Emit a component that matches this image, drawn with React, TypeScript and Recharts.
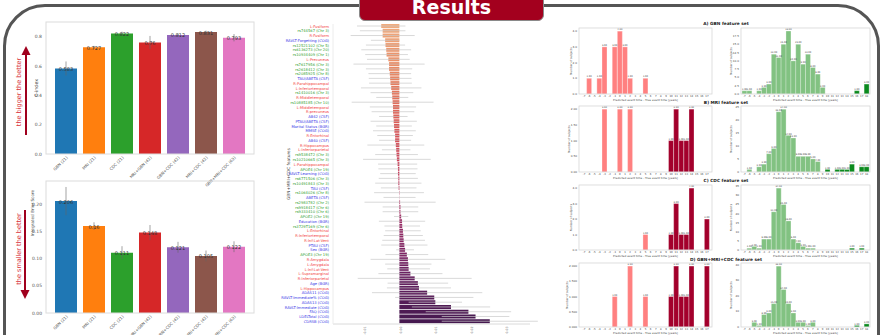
import React from "react";
import { BarChart, Bar, XAxis, YAxis, ErrorBar, LabelList, Cell } from "recharts";

const FONT = "'DejaVu Sans', Verdana, sans-serif";

// ---- overall performance (left) ----
const setNames = ["GBN (21)", "MRI (21)", "CDC (21)", "MRI+GBN (42)", "GBN+CDC (42)", "MRI+CDC (42)", "GBN+MRI+CDC (63)"];
const setColors = ["#1f77b4", "#ff7f0e", "#2ca02c", "#d62728", "#9467bd", "#8c564b", "#e377c2"];
const cIndex = [0.583, 0.727, 0.822, 0.76, 0.812, 0.831, 0.793];
const cIndexErr = [0.048, 0.01, 0.012, 0.045, 0.01, 0.01, 0.025];
const cIndexTicks = [0, 0.2, 0.4, 0.6, 0.8];
const ibs = [0.206, 0.16, 0.111, 0.148, 0.121, 0.105, 0.122];
const ibsErr = [0.026, 0.007, 0.012, 0.014, 0.01, 0.01, 0.01];
const ibsTicks = [0, 0.05, 0.1, 0.15, 0.2];

// ---- feature importance (middle) ----
const featureNames = [
  "L-Fusiform", "rs744567 (Chr 3)", "R-Fusiform", "RAVLT-Forgetting (COG)", "rs12521102 (Chr 5)",
  "rs6136273 (Chr 20)", "rs10934409 (Chr 1)", "L-Precuneus", "rs7617956 (Chr 3)", "rs2618412 (Chr 3)",
  "rs2085925 (Chr 8)", "TAU/ABETA (CSF)", "R-Parahippocampal", "L-Inferiortemporal", "rs1410016 (Chr 3)",
  "R-Middletemporal", "rs10885185 (Chr 10)", "L-Middletemporal", "R-precuneus", "AB42 (CSF)",
  "PTAU/ABETA (CSF)", "Marital Status (BGR)", "MMSE (COG)", "R-Entorhinal", "AB40 (CSF)",
  "R-Hippocampus", "L-Inferiorparietal", "rs9538472 (Chr 3)", "rs10210665 (Chr 3)", "L-Parahippocampal",
  "APOE4 (Chr 19)", "RAVLT-Learning (COG)", "rs6771506 (Chr 3)", "rs10491843 (Chr 3)", "TAU (CSF)",
  "rs1064026 (Chr 8)", "ABETA (CSF)", "rs2983782 (Chr 2)", "rs9918417 (Chr 6)", "rs9333410 (Chr 6)",
  "APOE2 (Chr 19)", "Education (BGR)", "rs3729T169 (Chr 6)", "L-Entorhinal", "R-Inferiortemporal",
  "R-Inf-Lat-Vent", "PTAU (CSF)", "Sex (BGR)", "APOE3 (Chr 19)", "R-Amygdala",
  "L-Amygdala", "L-Inf-Lat-Vent", "L-Supramarginal", "R-Inferiorparietal", "Age (BGR)",
  "L-Hippocampus", "ADAS11 (COG)", "RAVLT-Immediate% (COG)", "ADAS13 (COG)", "RAVLT-Immediate (COG)",
  "FAQ (COG)", "LDELTotal (COG)", "CDRSB (COG)",
];
const featureGroup = [
  "M", "G", "M", "C", "G", "G", "G", "M", "G", "G",
  "G", "C", "M", "M", "G", "M", "G", "M", "M", "C",
  "C", "C", "C", "M", "C", "M", "M", "G", "G", "M",
  "G", "C", "G", "G", "C", "G", "C", "G", "G", "G",
  "G", "C", "G", "M", "M", "M", "C", "C", "G", "M",
  "M", "M", "M", "M", "C", "M", "C", "C", "C", "C",
  "C", "C", "C",
];
const featureImpact = [
  -0.0051, -0.0047, -0.0047, -0.004, -0.0039, -0.0037, -0.0036, -0.0031, -0.0029, -0.0029,
  -0.0027, -0.0026, -0.0025, -0.0023, -0.0021, -0.002, -0.0019, -0.0018, -0.0018, -0.0017,
  -0.0016, -0.0015, -0.0014, -0.0012, -0.0012, -0.001, -0.0009, -0.0008, -0.0007, -0.0005,
  -0.0004, -0.0004, -0.0003, -0.0003, -0.0002, -0.0001, 0.00005, 0.0002, 0.0003, 0.0003,
  0.0005, 0.00075, 0.0008, 0.001, 0.0011, 0.0012, 0.0014, 0.0016, 0.0021, 0.0024,
  0.0025, 0.0026, 0.0031, 0.0043, 0.0052, 0.0055, 0.0078, 0.0098, 0.0101, 0.0145,
  0.0194, 0.0214, 0.0254,
];
const featureErr = [
  0.0068, 0.0064, 0.009, 0.004, 0.0055, 0.007, 0.006, 0.006, 0.01, 0.0065,
  0.006, 0.006, 0.006, 0.0085, 0.006, 0.0045, 0.0115, 0.0065, 0.006, 0.004,
  0.0065, 0.005, 0.006, 0.005, 0.0045, 0.008, 0.004, 0.006, 0.0095, 0.0055,
  0.0055, 0.005, 0.0055, 0.0065, 0.005, 0.007, 0.0045, 0.01, 0.005, 0.005,
  0.002, 0.0065, 0.005, 0.005, 0.0055, 0.006, 0.0065, 0.0025, 0.006, 0.0105,
  0.0065, 0.006, 0.009, 0.016, 0.0085, 0.009, 0.0155, 0.011, 0.0075, 0.011,
  0.012, 0.0095, 0.0135,
];
const impactTicks = [-0.01, 0, 0.01, 0.02, 0.03];

// ---- error histograms (right) ----
const leftBins = [-7, -6, -5, -4, -3, -2, -1, 0, 1, 2, 3, 4, 5, 6, 7, 8, 9, 10, 11, 12, 13, 14, 15, 16, 17];
const rightBins = [-7, -6, -5, -4, -3, -2, -1, 0, 1, 2, 3, 4, 5, 6, 7, 8, 9, 10, 11, 12, 13, 14, 15, 16, 17, 18];

const gbnLeft = [0, 1, 0, 1, 3, 0, 3, 4, 3, 1, 0, 0, 1, 0, 0, 0, 0, 0, 0, 0, 0, 0, 0, 0, 0];
const gbnRight = [1, 1, 0, 1, 2, 3, 12, 11, 15, 19, 10, 15, 9, 12, 8, 6, 2, 0, 0, 0, 0, 0, 0, 1, 0, 3];
const mriLeft = [0, 0, 0, 0, 2, 0, 0, 2, 0, 2, 0, 0, 0, 0, 0, 0, 0, 1, 2, 1, 1, 2, 0, 0, 0];
const mriRight = [0, 1, 0, 2, 3, 7, 9, 23, 24, 14, 13, 6, 6, 6, 5, 4, 0, 1, 0, 1, 1, 1, 3, 0, 2, 2];
const cdcLeft = [0, 0, 0, 0, 0, 0, 0, 0, 0, 0, 0, 0, 1, 0, 0, 0, 0, 1, 3, 1, 1, 4, 0, 0, 2];
const cdcRight = [0, 1, 2, 1, 6, 6, 21, 34, 25, 16, 6, 4, 2, 1, 1, 0, 0, 0, 0, 0, 0, 0, 1, 0, 1, 0];
const allLeft = [0, 0, 0, 0, 0, 0, 1, 0, 0, 2, 0, 0, 1, 0, 0, 0, 0, 1, 2, 1, 1, 2, 0, 0, 2];
const allRight = [0, 0, 3, 1, 8, 9, 15, 39, 24, 15, 9, 3, 3, 1, 3, 0, 0, 0, 0, 0, 0, 0, 0, 1, 0, 2];

const ticksHalf4 = [0, 0.5, 1, 1.5, 2, 2.5, 3, 3.5, 4];
const ticksQuarter2 = [0, 0.25, 0.5, 0.75, 1, 1.25, 1.5, 1.75, 2];
const gbnRightTicks = [0, 2.5, 5, 7.5, 10, 12.5, 15, 17.5];
const mriRightTicks = [0, 5, 10, 15, 20, 25];
const cdcRightTicks = [0, 5, 10, 15, 20, 25, 30, 35];
const allRightTicks = [0, 5, 10, 15, 20, 25, 30, 35, 40];

const histTitles = ["A) GBN feature set", "B) MRI feature set", "C) CDC feature set", "D) GBN+MRI+CDC feature set"];

const groupColor: Record<string, string> = { M: "#f23a3a", G: "#2f9e2f", C: "#3535e6" };

const flare = ["#f0ab7e", "#e8845f", "#dc5a57", "#c63d5c", "#9b2b66", "#6c2263", "#45184f"];
function mix(a: string, b: string, t: number) {
  const pa = [1, 3, 5].map((k) => parseInt(a.slice(k, k + 2), 16));
  const pb = [1, 3, 5].map((k) => parseInt(b.slice(k, k + 2), 16));
  return "rgb(" + pa.map((v, i) => Math.round(v + (pb[i] - v) * t)).join(",") + ")";
}
function flareColor(i: number, n: number) {
  const t = (i / (n - 1)) * (flare.length - 1);
  const k = Math.min(Math.floor(t), flare.length - 2);
  return mix(flare[k], flare[k + 1], t - k);
}

function ScoreChart({ top, height, mTop, xH, values, errors, ticks, yMax }: any) {
  const data = setNames.map((name, i) => ({ name, v: values[i], err: errors[i] }));
  return (
    <div style={{ position: "absolute", left: 0, top }}>
      <BarChart width={270} height={height} data={data} margin={{ top: mTop, right: 16, left: 0, bottom: 0 }}>
        <XAxis
          dataKey="name"
          interval={0}
          height={xH}
          angle={-45}
          textAnchor="end"
          padding={{ left: 6, right: 6 }}
          tick={{ fontSize: 4, fill: "#555", fontFamily: FONT }}
          tickLine={false}
          axisLine={false}
          tickSize={1}
          tickMargin={1}
        />
        <YAxis
          width={46}
          domain={[0, yMax]}
          ticks={ticks}
          allowDataOverflow
          tickFormatter={(v: number) => (ticks[1] < 0.1 ? v.toFixed(2) : v.toFixed(1))}
          tick={{ fontSize: 4.5, fill: "#555", fontFamily: FONT }}
          tickLine={false}
          axisLine={false}
          tickSize={1}
          tickMargin={3}
        />
        <Bar dataKey="v" barSize={22} isAnimationActive={false}>
          {data.map((d, i) => (
            <Cell key={i} fill={setColors[i]} />
          ))}
          <ErrorBar dataKey="err" direction="y" width={0} stroke="#666" strokeWidth={0.6} />
          <LabelList dataKey="v" position="top" offset={-2.5} fontSize={5} fill="#333" fontFamily={FONT} />
        </Bar>
      </BarChart>
    </div>
  );
}

function FeatureTick(props: any) {
  const { x, y, payload } = props;
  const idx = featureNames.indexOf(payload.value);
  return (
    <text x={x - 1} y={y} dy={1.3} textAnchor="end" fontSize={3.7} fontFamily={FONT} fill={groupColor[featureGroup[idx]]}>
      {payload.value}
    </text>
  );
}

function FeatureChart() {
  const data = featureNames.map((name, i) => ({ name, v: featureImpact[i], err: featureErr[i] }));
  return (
    <div style={{ position: "absolute", left: 270, top: 0 }}>
      <BarChart width={270} height={335} data={data} layout="vertical" margin={{ top: 24, right: 10, left: 0, bottom: 0 }}>
        <XAxis
          type="number"
          domain={[-0.01865, 0.0367]}
          allowDataOverflow
          ticks={impactTicks}
          height={11}
          angle={-90}
          textAnchor="end"
          tickFormatter={(v: number) => v.toFixed(2)}
          tick={{ fontSize: 3.2, fill: "#777", fontFamily: FONT }}
          tickLine={false}
          axisLine={{ stroke: "#dadada" }}
          tickSize={1}
          tickMargin={1.5}
        />
        <YAxis
          type="category"
          dataKey="name"
          width={63}
          interval={0}
          tick={<FeatureTick />}
          tickLine={false}
          axisLine={{ stroke: "#ececec" }}
          tickSize={1}
        />
        <Bar dataKey="v" barSize={4} isAnimationActive={false}>
          {data.map((d, i) => (
            <Cell key={i} fill={flareColor(i, data.length)} />
          ))}
          <ErrorBar dataKey="err" direction="x" width={0} stroke="#c9c9c9" strokeWidth={0.7} />
        </Bar>
      </BarChart>
    </div>
  );
}

function Hist({ left, top, w, h, bins, counts, yMax, ticks, digits, light, dark, pad }: any) {
  const data = bins.map((b: number, i: number) => ({ bin: String(b), n: counts[i] }));
  const axisW = 20;
  return (
    <div style={{ position: "absolute", left: left - axisW, top: top - 4 }}>
      <BarChart width={axisW + w} height={4 + h + 8} data={data} margin={{ top: 4, right: 0, left: 0, bottom: 0 }} barCategoryGap={0}>
        <XAxis
          dataKey="bin"
          interval={0}
          height={8}
          padding={{ left: pad, right: pad }}
          tick={{ fontSize: 2.6, fill: "#444", fontFamily: FONT }}
          tickLine={false}
          axisLine={false}
          tickSize={1}
          tickMargin={0}
        />
        <YAxis
          width={axisW}
          domain={[0, yMax]}
          ticks={ticks}
          allowDataOverflow
          tickFormatter={(v: number) => v.toFixed(digits)}
          tick={{ fontSize: 2.8, fill: "#444", fontFamily: FONT }}
          tickLine={false}
          axisLine={false}
          tickSize={1}
          tickMargin={1}
        />
        <Bar dataKey="n" isAnimationActive={false} stroke="#ffffff" strokeWidth={0.3}>
          {data.map((d: any, i: number) => (
            <Cell key={i} fill={bins[i] >= 10 ? dark : light} />
          ))}
          <LabelList dataKey="n" position="top" offset={0.8} fontSize={2.3} fill="#333" fontFamily={FONT} formatter={(v: any) => Number(v).toFixed(2)} />
        </Bar>
      </BarChart>
    </div>
  );
}

const rows = [
  { top: 28, h: 66, l: gbnLeft, lMax: 4.2, lTicks: ticksHalf4, lDig: 1, r: gbnRight, rMax: 19.9, rTicks: gbnRightTicks, rDig: 1 },
  { top: 106, h: 66, l: mriLeft, lMax: 2.1, lTicks: ticksQuarter2, lDig: 2, r: mriRight, rMax: 25.2, rTicks: mriRightTicks, rDig: 0 },
  { top: 185, h: 65, l: cdcLeft, lMax: 4.2, lTicks: ticksHalf4, lDig: 1, r: cdcRight, rMax: 35.7, rTicks: cdcRightTicks, rDig: 0 },
  { top: 263, h: 64, l: allLeft, lMax: 2.1, lTicks: ticksQuarter2, lDig: 3, r: allRight, rMax: 41, rTicks: allRightTicks, rDig: 0 },
];
const histTitleY = [23, 102, 180, 259];

export default function App() {
  const LX = 579, LW = 133, RX = 741, RW = 129;
  return (
    <div style={{ position: "fixed", left: 0, top: 0, width: 881, height: 335, overflow: "hidden", background: "#fff", fontFamily: FONT }}>
      <div style={{ position: "absolute", left: 3, top: 4, width: 871, height: 420, border: "3px solid #555", borderRadius: 42 }} />

      <ScoreChart top={0} height={195} mTop={22} xH={41} values={cIndex} errors={cIndexErr} ticks={cIndexTicks} yMax={0.9} />
      <ScoreChart top={160} height={175} mTop={21} xH={22} values={ibs} errors={ibsErr} ticks={ibsTicks} yMax={0.243} />

      <FeatureChart />

      {rows.map((r, i) => (
        <React.Fragment key={i}>
          <Hist left={LX} top={r.top} w={LW} h={r.h} bins={leftBins} counts={r.l} yMax={r.lMax} ticks={r.lTicks} digits={r.lDig} light="#ff8080" dark="#a3002c" pad={2.5} />
          <Hist left={RX} top={r.top} w={RW} h={r.h} bins={rightBins} counts={r.r} yMax={r.rMax} ticks={r.rTicks} digits={r.rDig} light="#82c282" dark="#0b8a1e" pad={1} />
        </React.Fragment>
      ))}

      <svg width={881} height={335} style={{ position: "absolute", left: 0, top: 0, pointerEvents: "none" }} fontFamily={FONT}>
        {/* axes frames */}
        <rect x={46} y={22} width={208} height={132} fill="none" stroke="#dcdcdc" strokeWidth={1} />
        <rect x={46} y={181} width={208} height={132} fill="none" stroke="#dcdcdc" strokeWidth={1} />
        <text x={36} y={88} transform="rotate(-90 36 88)" textAnchor="middle" dominantBaseline="central" fontSize={4.8} fill="#444">C-index</text>
        <text x={32} y={213} transform="rotate(-90 32 213)" textAnchor="middle" dominantBaseline="central" fontSize={4.2} fill="#444">Integrated Brier Score</text>

        {/* better-direction arrows */}
        <line x1={26} y1={135} x2={26} y2={54} stroke="#a0001e" strokeWidth={2} />
        <polygon points="21.5,55 30.5,55 26,46" fill="#a0001e" />
        <text x={19} y={92} transform="rotate(-90 19 92)" textAnchor="middle" dominantBaseline="central" fontSize={6.5} fill="#d8323c">the bigger the better</text>
        <line x1={25} y1={210} x2={25} y2={291} stroke="#a0001e" strokeWidth={2} />
        <polygon points="20.5,290 29.5,290 25,299" fill="#a0001e" />
        <text x={19} y={249} transform="rotate(-90 19 249)" textAnchor="middle" dominantBaseline="central" fontSize={6.5} fill="#d8323c">the smaller the better</text>

        <text x={288} y={174} transform="rotate(-90 288 174)" textAnchor="middle" dominantBaseline="central" fontSize={4.2} fill="#444">GBN+MRI+CDC features</text>

        {rows.map((r, i) => (
          <g key={i}>
            <text x={726} y={histTitleY[i]} textAnchor="middle" dominantBaseline="central" fontSize={4.3} fontWeight="bold" fill="#222">{histTitles[i]}</text>
            <rect x={LX} y={r.top} width={LW} height={r.h} fill="none" stroke="#d6d6d6" strokeWidth={0.8} />
            <rect x={RX} y={r.top} width={RW} height={r.h} fill="none" stroke="#d6d6d6" strokeWidth={0.8} />
            <text x={LX - 3 - (r.lDig + 2) * 1.8} y={r.top + r.h / 2} transform={`rotate(-90 ${LX - 3 - (r.lDig + 2) * 1.8} ${r.top + r.h / 2})`} textAnchor="middle" dominantBaseline="central" fontSize={2.8} fill="#444">Number of subjects</text>
            <text x={RX - 10} y={r.top + r.h / 2} transform={`rotate(-90 ${RX - 10} ${r.top + r.h / 2})`} textAnchor="middle" dominantBaseline="central" fontSize={2.8} fill="#444">Number of subjects</text>
            <text x={LX + LW / 2} y={r.top + r.h + 5.5} textAnchor="middle" dominantBaseline="central" fontSize={2.8} fill="#444">Predicted event time - True event time [years]</text>
            <text x={RX + RW / 2} y={r.top + r.h + 5.5} textAnchor="middle" dominantBaseline="central" fontSize={2.8} fill="#444">Predicted event time - True event time [years]</text>
          </g>
        ))}
      </svg>

      <div style={{ position: "absolute", left: 359, top: -6, width: 183, height: 25, background: "#a3001e", border: "1.5px solid #8a8a8a", borderRadius: "0 0 6px 6px", overflow: "hidden" }}>
        <div style={{ position: "absolute", left: 0, right: 0, top: 2, textAlign: "center", color: "#fff", fontWeight: "bold", fontSize: 19, lineHeight: "20px", fontFamily: FONT }}>Results</div>
      </div>
    </div>
  );
}
